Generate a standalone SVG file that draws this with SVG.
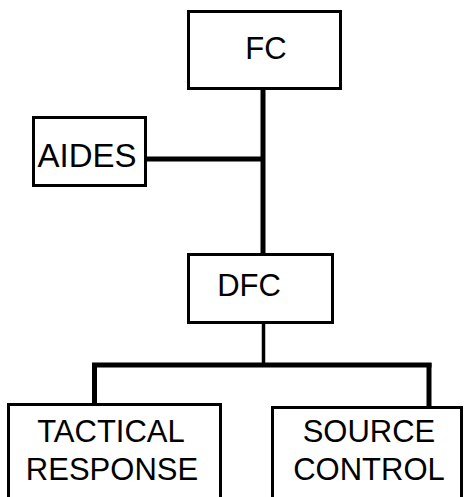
<svg xmlns="http://www.w3.org/2000/svg" width="464" height="497" viewBox="0 0 464 497">
  <style>
    .box { fill: #ffffff; stroke: #000000; stroke-width: 3; }
    .lbl { font-family: "Liberation Sans", Arial, sans-serif; font-size: 31px; fill: #000000; text-anchor: middle; }
    .big { font-size: 33px; }
    .wire { stroke: #000000; stroke-width: 5; fill: none; }
    .wire-thin { stroke: #000000; stroke-width: 3.5; fill: none; }
  </style>
  <rect width="464" height="497" fill="#ffffff"/>

  <g id="connectors">
    <line class="wire" x1="263" y1="89" x2="263" y2="254"/>
    <line class="wire" x1="146" y1="159" x2="263" y2="159"/>
    <line class="wire-thin" x1="263.5" y1="323" x2="263.5" y2="365"/>
    <line class="wire" x1="92" y1="365" x2="431.5" y2="365"/>
    <line class="wire" x1="94.5" y1="363" x2="94.5" y2="404"/>
    <line class="wire" x1="429" y1="363" x2="429" y2="407"/>
  </g>

  <g id="fc">
    <rect class="box" x="188.5" y="11.5" width="152" height="77"/>
    <text class="lbl" x="266" y="59">FC</text>
  </g>

  <g id="aides">
    <rect class="box" x="33.5" y="117.5" width="112" height="68"/>
    <text class="lbl big" x="87" y="167">AIDES</text>
  </g>

  <g id="dfc">
    <rect class="box" x="188.5" y="254.5" width="144" height="68"/>
    <text class="lbl" x="249" y="296">DFC</text>
  </g>

  <g id="tactical-response">
    <rect class="box" x="8.5" y="404.5" width="212" height="100"/>
    <text class="lbl" x="111" y="442">TACTICAL</text>
    <text class="lbl" x="112" y="480">RESPONSE</text>
  </g>

  <g id="source-control">
    <rect class="box" x="272.5" y="407.5" width="189" height="100"/>
    <text class="lbl" x="369" y="442">SOURCE</text>
    <text class="lbl" x="369" y="480">CONTROL</text>
  </g>
</svg>
